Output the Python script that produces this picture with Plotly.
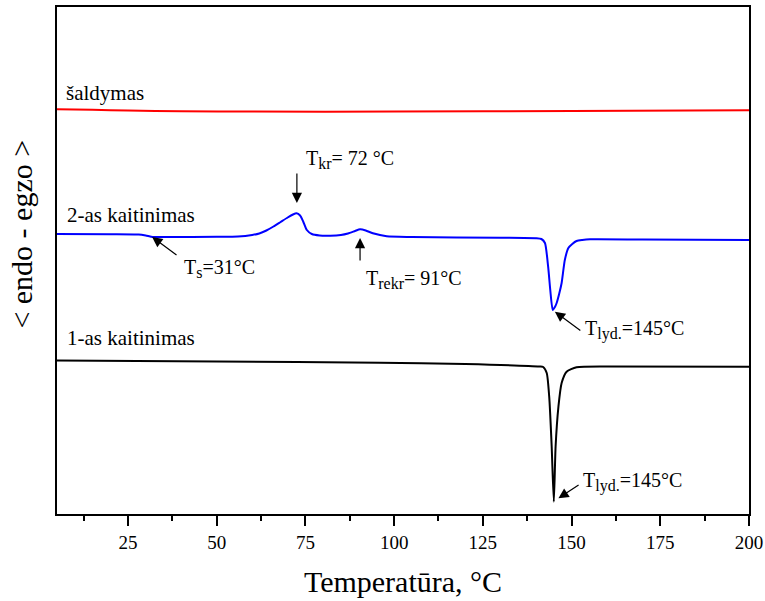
import plotly.graph_objects as go

# ---- data (temperature in °C, heat-flow signal in arbitrary units) ----
t_cool = [5, 15, 25, 40, 60, 100, 150, 200]
s_cool = [40.47, 40.42, 40.35, 40.27, 40.24, 40.24, 40.30, 40.38]

t_heat2 = [5, 20, 28, 30, 32, 36, 50, 56, 60, 62, 64, 66, 68, 70, 71.5, 72.5, 73.5,
           74.4, 75.4, 76.8, 79, 82, 85, 87, 89, 90.4, 92, 94, 97.9, 105, 130, 140,
           141.5, 142.5, 143.4, 144, 144.7, 145.3, 145.8, 146.5, 147.2, 148.1, 149.1,
           150.2, 151.4, 153, 155.2, 170, 200]
s_heat2 = [28.0, 27.98, 27.95, 27.85, 27.7, 27.7, 27.72, 27.75, 27.9, 28.05, 28.35,
           28.75, 29.2, 29.65, 29.95, 30.07, 29.85, 29.23, 28.4, 28.0, 27.85, 27.83,
           27.9, 28.05, 28.3, 28.47, 28.35, 28.07, 27.77, 27.7, 27.63, 27.58, 27.5,
           27.1, 24.73, 22.4, 20.4, 20.7, 21.1, 22.0, 23.1, 25.4, 26.6, 27.0, 27.3,
           27.4, 27.47, 27.45, 27.4]

t_heat1 = [5, 50, 96, 120, 141, 142, 143, 143.7, 144.4, 145, 145.5, 146.3, 147.2,
           148.6, 151.4, 160, 200]
s_heat1 = [15.35, 15.25, 15.13, 15.0, 14.75, 14.7, 14.1, 11.73, 6.73, 1.23, 6.73,
           10.73, 13.1, 14.23, 14.67, 14.75, 14.73]

x_ticks = [25, 50, 75, 100, 125, 150, 175, 200]
x_minor = [12.5, 37.5, 62.5, 87.5, 112.5, 137.5, 162.5, 187.5]

curve_names = ["šaldymas", "2-as kaitinimas", "1-as kaitinimas"]
x_title = "Temperatūra, °C"
y_title = "< endo - egzo >"

FONT = "Liberation Serif, Times New Roman, serif"


def sub(s):
    return "<sub><span style='font-size:16px'>" + s + "</span></sub>"


fig = go.Figure()
fig.add_trace(go.Scatter(x=t_cool, y=s_cool, mode="lines", name=curve_names[0],
                         line=dict(color="#ff0000", width=2, shape="spline", smoothing=0.6)))
fig.add_trace(go.Scatter(x=t_heat2, y=s_heat2, mode="lines", name=curve_names[1],
                         line=dict(color="#0000ff", width=2, shape="spline", smoothing=0.6)))
fig.add_trace(go.Scatter(x=t_heat1, y=s_heat1, mode="lines", name=curve_names[2],
                         line=dict(color="#000000", width=2, shape="spline", smoothing=0.6)))

ann = []
# curve labels
for name, xx, yy in zip(curve_names, [7.0, 7.3, 7.3], [42.1, 29.9, 17.6]):
    ann.append(dict(x=xx, y=yy, text=name, showarrow=False, xanchor="left",
                    yanchor="middle", font=dict(family=FONT, size=21, color="black")))

# temperature labels
labels = [
    ("T" + sub("kr") + "= 72 °C", 74.5, 35.5),
    ("T" + sub("s") + "=31°C", 40.2, 24.6),
    ("T" + sub("rekr") + "= 91°C", 91.5, 23.5),
    ("T" + sub("lyd.") + "=145°C", 153.2, 18.45),
    ("T" + sub("lyd.") + "=145°C", 152.6, 3.2),
]
for txt, xx, yy in labels:
    ann.append(dict(x=xx, y=yy, text=txt, showarrow=False, xanchor="left",
                    yanchor="middle", font=dict(family=FONT, size=20, color="black")))

# arrows (head, tail)
arrows = [
    ((72.6, 31.1), (72.6, 34.2)),
    ((90.4, 27.6), (90.4, 25.2)),
    ((31.8, 27.7), (39.1, 25.8)),
    ((145.3, 20.23), (152.9, 18.23)),
    ((146.3, 1.57), (152.4, 3.0)),
]
for (hx, hy), (tx, ty) in arrows:
    ann.append(dict(x=hx, y=hy, ax=tx, ay=ty, axref="x", ayref="y", text="",
                    showarrow=True, arrowhead=2, arrowsize=1.7, arrowwidth=1.2,
                    arrowcolor="black", standoff=0, startstandoff=0))

# y-axis title
ann.append(dict(xref="paper", yref="paper", x=-0.0506, y=0.553, text=y_title,
                textangle=-90, showarrow=False, xanchor="center", yanchor="middle",
                font=dict(family=FONT, size=30, color="black")))

fig.update_layout(
    width=765, height=601, autosize=False,
    margin=dict(l=57, r=16, t=7, b=87, autoexpand=False),
    paper_bgcolor="white", plot_bgcolor="white",
    showlegend=False,
    annotations=ann,
    font=dict(family=FONT, color="black"),
    xaxis=dict(range=[5, 200], tickvals=x_ticks, ticks="outside", ticklen=10,
               tickwidth=1.5, tickcolor="black", automargin=False,
               minor=dict(tickvals=x_minor, ticks="outside", ticklen=5,
                          tickwidth=1.5, tickcolor="black"),
               showline=True, linewidth=2, linecolor="black", mirror=True,
               showgrid=False, zeroline=False, ticklabelstandoff=0,
               tickfont=dict(family=FONT, size=19, color="black"),
               title=dict(text=x_title, font=dict(family=FONT, size=30, color="black"),
                          standoff=19)),
    yaxis=dict(range=[0, 50.7], showticklabels=False, ticks="", automargin=False,
               showline=True, linewidth=2, linecolor="black", mirror=True,
               showgrid=False, zeroline=False),
)

fig.write_html("out.html", config={"displayModeBar": False},
               post_script="document.body.style.margin='0';")
